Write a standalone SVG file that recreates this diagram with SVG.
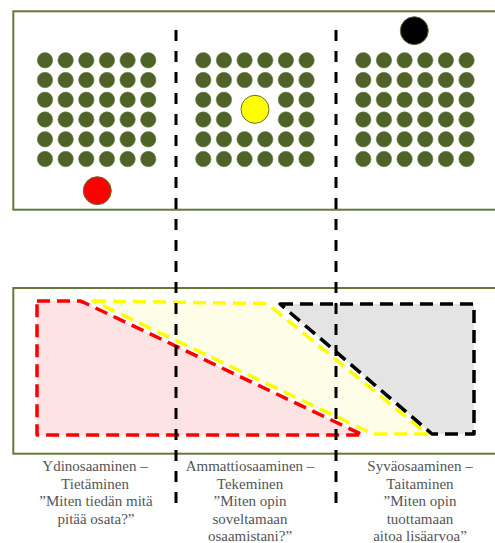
<svg xmlns="http://www.w3.org/2000/svg" xmlns:xlink="http://www.w3.org/1999/xlink" width="495" height="543" viewBox="0 0 495 543">
  <style>
    .frame { fill: #ffffff; stroke: #657a3a; stroke-width: 2; }
    .dot { fill: #4f6228; stroke: #6b7d4a; stroke-width: 0.6; }
    .marker { stroke: #5f7434; stroke-width: 1; }
    .zone { stroke-width: 3.5; stroke-dasharray: 13 7; stroke-linejoin: round; stroke-linecap: butt; }
    .divider { stroke: #000000; stroke-width: 3; stroke-dasharray: 11 10; fill: none; }
    .cap { font-family: "Liberation Serif", "Times New Roman", serif; font-size: 15px; fill: #555555; text-anchor: middle; }
  </style>
  <defs>
    <circle id="dot" r="7.7" class="dot"/>
    <g id="row">
      <use xlink:href="#dot" x="0"/>
      <use xlink:href="#dot" x="20.65"/>
      <use xlink:href="#dot" x="41.3"/>
      <use xlink:href="#dot" x="61.95"/>
      <use xlink:href="#dot" x="82.6"/>
      <use xlink:href="#dot" x="103.25"/>
    </g>
    <g id="grid">
      <use xlink:href="#row" y="0"/>
      <use xlink:href="#row" y="19.75"/>
      <use xlink:href="#row" y="39.5"/>
      <use xlink:href="#row" y="59.25"/>
      <use xlink:href="#row" y="79"/>
      <use xlink:href="#row" y="98.75"/>
    </g>
  </defs>

  <!-- upper panel: three groups of dots -->
  <g id="upper-panel">
    <rect class="frame" x="13.3" y="11.3" width="490" height="198.4"/>
  </g>
  <g id="group-core">
    <use xlink:href="#grid" x="45" y="60.3"/>
    <circle class="marker" cx="97.3" cy="190.7" r="14" fill="#ff0000"/>
  </g>
  <g id="group-professional">
    <use xlink:href="#row" x="203.3" y="60.3"/>
    <use xlink:href="#row" x="203.3" y="80.05"/>
    <use xlink:href="#dot" x="203.3" y="99.8"/>
    <use xlink:href="#dot" x="223.95" y="99.8"/>
    <use xlink:href="#dot" x="285.9" y="99.8"/>
    <use xlink:href="#dot" x="306.55" y="99.8"/>
    <use xlink:href="#dot" x="203.3" y="119.55"/>
    <use xlink:href="#dot" x="223.95" y="119.55"/>
    <use xlink:href="#dot" x="285.9" y="119.55"/>
    <use xlink:href="#dot" x="306.55" y="119.55"/>
    <use xlink:href="#row" x="203.3" y="139.3"/>
    <use xlink:href="#row" x="203.3" y="159.05"/>
    <circle class="marker" cx="255" cy="109.3" r="14" fill="#ffff00"/>
  </g>
  <g id="group-deep">
    <use xlink:href="#grid" x="363.3" y="60.3"/>
    <circle class="marker" cx="414.3" cy="30.7" r="14" fill="#000000"/>
  </g>

  <!-- lower panel: overlapping competence zones -->
  <g id="lower-panel">
    <rect class="frame" x="13.3" y="288" width="490" height="165.7"/>
  </g>
  <g id="zone-core">
    <polygon class="zone" points="37,301 80,301 84,302.5 363,435 37,435" fill="#fde3e3" stroke="#ff0000"/>
  </g>
  <g id="zone-professional">
    <polygon class="zone" points="93,301 265,303.5 269,305 427,434 373,434" fill="#fdfde8" stroke="#ffff00"/>
  </g>
  <g id="zone-deep">
    <polygon class="zone" points="280,304 474,304 474,434 432,434" fill="#e4e4e4" stroke="#000000" stroke-dasharray="14 8"/>
  </g>

  <!-- dashed dividers between the three levels -->
  <g id="connectors">
    <line class="divider" x1="176" y1="30" x2="176" y2="505"/>
    <line class="divider" x1="336" y1="30" x2="336" y2="505"/>
  </g>

  <!-- captions -->
  <g id="caption-core">
    <text class="cap" x="95" y="471">Ydinosaaminen –</text>
    <text class="cap" x="95" y="488.6">Tietäminen</text>
    <text class="cap" x="96" y="506.2">”Miten tiedän mitä</text>
    <text class="cap" x="96" y="523.8">pitää osata?”</text>
  </g>
  <g id="caption-professional">
    <text class="cap" x="250" y="471">Ammattiosaaminen –</text>
    <text class="cap" x="250" y="488.6">Tekeminen</text>
    <text class="cap" x="250" y="506.2">”Miten opin</text>
    <text class="cap" x="250" y="523.8">soveltamaan</text>
    <text class="cap" x="250" y="541.4">osaamistani?”</text>
  </g>
  <g id="caption-deep">
    <text class="cap" x="420" y="471">Syväosaaminen –</text>
    <text class="cap" x="420" y="488.6">Taitaminen</text>
    <text class="cap" x="420" y="506.2">”Miten opin</text>
    <text class="cap" x="420" y="523.8">tuottamaan</text>
    <text class="cap" x="420" y="541.4">aitoa lisäarvoa”</text>
  </g>
</svg>
